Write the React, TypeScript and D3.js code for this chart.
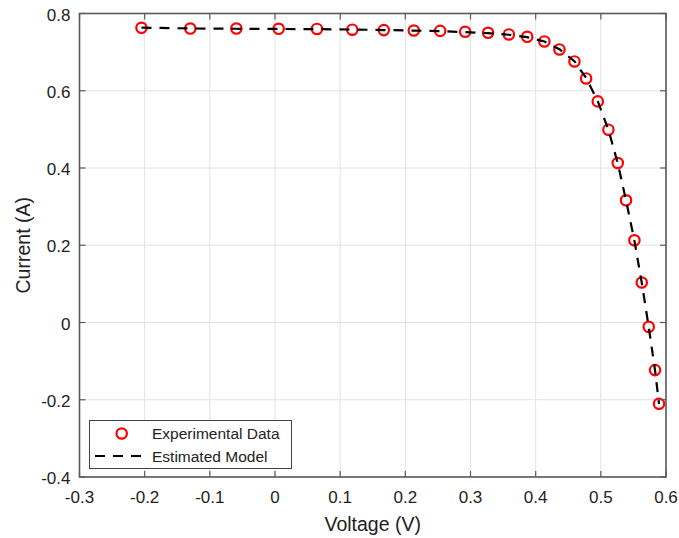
import React from "react";
import * as d3 from "d3";

const voltage = [-0.2049, -0.130, -0.0593, 0.0056, 0.0644, 0.1186, 0.167, 0.213, 0.2535, 0.2918, 0.327, 0.3589, 0.387, 0.4134, 0.4365, 0.4595, 0.4774, 0.4953, 0.5116, 0.526, 0.5387, 0.5515, 0.5628, 0.5735, 0.5832, 0.5893];
const current = [0.763, 0.761, 0.761, 0.7604, 0.760, 0.758, 0.757, 0.756, 0.755, 0.7527, 0.750, 0.7457, 0.7397, 0.7276, 0.7069, 0.6759, 0.6319, 0.5724, 0.4992, 0.4129, 0.3164, 0.213, 0.1036, -0.0112, -0.1232, -0.2104];
const modelCurrent = [0.7635, 0.7612, 0.7605, 0.7600, 0.7595, 0.7585, 0.7572, 0.7558, 0.7542, 0.7518, 0.7490, 0.7450, 0.7390, 0.7275, 0.7075, 0.6765, 0.6330, 0.5730, 0.4990, 0.4120, 0.3160, 0.2120, 0.1030, -0.0120, -0.1240, -0.2110];
const xTicks = [-0.3, -0.2, -0.1, 0, 0.1, 0.2, 0.3, 0.4, 0.5, 0.6];
const yTicks = [-0.4, -0.2, 0, 0.2, 0.4, 0.6, 0.8];
const legendLabels = ["Experimental Data", "Estimated Model"];

const W = 679, H = 538;
const L = 79.5, R = 666, T = 13.5, B = 477;

export default function App() {
  const x = d3.scaleLinear().domain([-0.3, 0.6]).range([L, R]);
  const y = d3.scaleLinear().domain([-0.4, 0.8]).range([B, T]);
  const line = d3.line<number>().x((_, i) => x(voltage[i])).y((d) => y(d));
  const fmt = (v: number) => (Math.abs(v) < 1e-9 ? "0" : String(+v.toFixed(1)));
  const axisColor = "#5a5a5a";
  const font = "'Liberation Sans', Arial, sans-serif";
  const tl = 6;
  return (
    <svg width={W} height={H} style={{ position: "absolute", left: 0, top: 0, background: "#fff" }}>
      <rect x={0} y={0} width={W} height={H} fill="#fff" />
      {xTicks.map((t) => (
        <line key={"gx" + t} x1={x(t)} x2={x(t)} y1={T} y2={B} stroke="#e2e2e2" strokeWidth={1} />
      ))}
      {yTicks.map((t) => (
        <line key={"gy" + t} x1={L} x2={R} y1={y(t)} y2={y(t)} stroke="#e2e2e2" strokeWidth={1} />
      ))}
      <g>
        {voltage.map((v, i) => (
          <circle key={"c" + i} cx={x(v)} cy={y(current[i])} r={5.2} fill="none" stroke="#ff0000" strokeWidth={2.2} />
        ))}
      </g>
      <path d={line(modelCurrent) || ""} fill="none" stroke="#000" strokeWidth={2.2} strokeDasharray="10,8" />
      <rect x={L} y={T} width={R - L} height={B - T} fill="none" stroke={axisColor} strokeWidth={1.6} />
      {xTicks.map((t) => (
        <g key={"tx" + t}>
          <line x1={x(t)} x2={x(t)} y1={B} y2={B - tl} stroke={axisColor} strokeWidth={1.2} />
          <line x1={x(t)} x2={x(t)} y1={T} y2={T + tl} stroke={axisColor} strokeWidth={1.2} />
          <text x={x(t)} y={502.5} textAnchor="middle" fontFamily={font} fontSize={17} fill="#222">{fmt(t)}</text>
        </g>
      ))}
      {yTicks.map((t) => (
        <g key={"ty" + t}>
          <line x1={L} x2={L + tl} y1={y(t)} y2={y(t)} stroke={axisColor} strokeWidth={1.2} />
          <line x1={R} x2={R - tl} y1={y(t)} y2={y(t)} stroke={axisColor} strokeWidth={1.2} />
          <text x={70.5} y={y(t) + 7} textAnchor="end" fontFamily={font} fontSize={17} fill="#222">{fmt(t)}</text>
        </g>
      ))}
      <text x={(L + R) / 2} y={531} textAnchor="middle" fontFamily={font} fontSize={19.5} fill="#222">Voltage (V)</text>
      <text transform={`translate(29.5,${(T + B) / 2}) rotate(-90)`} textAnchor="middle" fontFamily={font} fontSize={19.5} fill="#222">Current (A)</text>
      <g>
        <rect x={89.5} y={420.5} width={202} height={48} fill="#fff" stroke="#444" strokeWidth={1} />
        <circle cx={121.7} cy={433.5} r={5.2} fill="none" stroke="#ff0000" strokeWidth={2.2} />
        <text x={152} y={439} fontFamily={font} fontSize={15.5} fill="#222">{legendLabels[0]}</text>
        <line x1={95} x2={149} y1={456} y2={456} stroke="#000" strokeWidth={2.2} strokeDasharray="10,8" />
        <text x={152} y={462} fontFamily={font} fontSize={15.5} fill="#222">{legendLabels[1]}</text>
      </g>
    </svg>
  );
}
